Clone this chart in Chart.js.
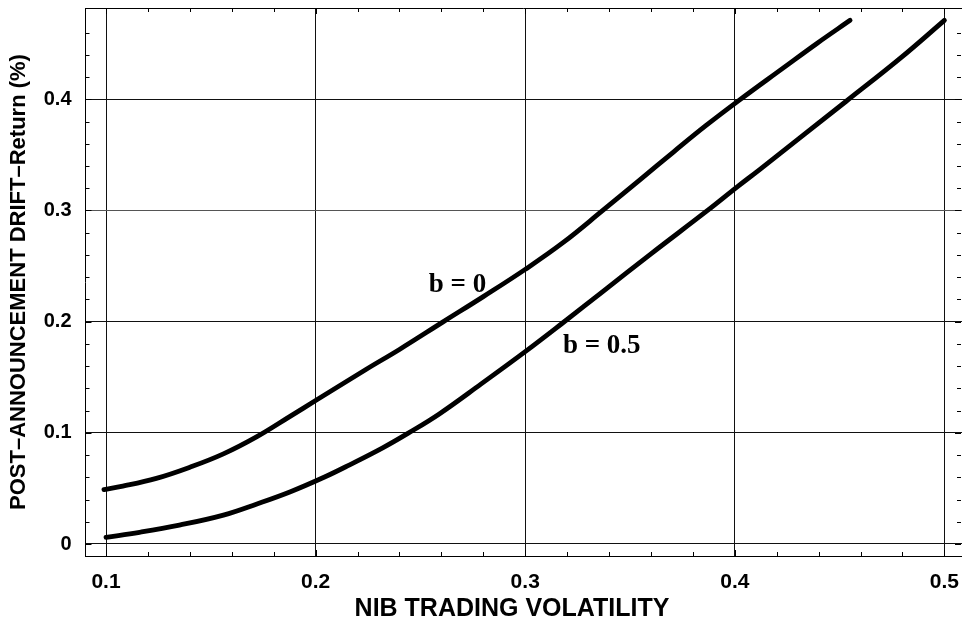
<!DOCTYPE html>
<html>
<head>
<meta charset="utf-8">
<script src="https://cdn.jsdelivr.net/npm/chart.js@4.4.0/dist/chart.umd.min.js"></script>
<style>
  html, body { margin: 0; padding: 0; background: #fff; }
  #wrap { width: 962px; height: 621px; }
</style>
</head>
<body>
<div id="wrap"><canvas id="c" width="962" height="621"></canvas></div>
<script>
// ---- data ----
const b0X = [0.099, 0.108, 0.124, 0.140, 0.156, 0.172, 0.188, 0.200, 0.224, 0.240, 0.261, 0.280, 0.300, 0.318, 0.337, 0.355, 0.371, 0.386, 0.402, 0.423, 0.439, 0.455];
const b0Y = [0.049, 0.052, 0.059, 0.069, 0.081, 0.0965, 0.115, 0.129, 0.157, 0.175, 0.200, 0.2225, 0.247, 0.271, 0.300, 0.328, 0.353, 0.376, 0.399, 0.428, 0.450, 0.471];
const b05X = [0.100, 0.116, 0.135, 0.156, 0.172, 0.188, 0.204, 0.216, 0.232, 0.244, 0.259, 0.279, 0.300, 0.318, 0.337, 0.360, 0.387, 0.401, 0.412, 0.453, 0.479, 0.500];
const b05Y = [0.006, 0.0105, 0.017, 0.026, 0.036, 0.047, 0.060, 0.071, 0.0865, 0.0995, 0.117, 0.144, 0.173, 0.199, 0.227, 0.261, 0.300, 0.321, 0.337, 0.398, 0.437, 0.471];

const seriesLabels = ['b = 0', 'b = 0.5'];
const labelAnchorX = [0.254, 0.318];
const labelAnchorY = [0.2265, 0.1715];

const xTicks = [0.1, 0.2, 0.3, 0.4, 0.5];
const yTicks = [0, 0.1, 0.2, 0.3, 0.4];
const xMinorTicks = [0.1, 0.12, 0.14, 0.16, 0.18, 0.2, 0.22, 0.24, 0.26, 0.28, 0.3, 0.32, 0.34, 0.36, 0.38, 0.4, 0.42, 0.44, 0.46, 0.48, 0.5];
const yMinorTicks = [0, 0.02, 0.04, 0.06, 0.08, 0.1, 0.12, 0.14, 0.16, 0.18, 0.2, 0.22, 0.24, 0.26, 0.28, 0.3, 0.32, 0.34, 0.36, 0.38, 0.4, 0.42, 0.44, 0.46];

const xTitle = 'NIB TRADING VOLATILITY';
const yTitle = 'POST\u2013ANNOUNCEMENT DRIFT\u2013Return (%)';

const fmt = v => (Math.abs(v) < 1e-9 ? '0' : Number(v).toFixed(1));
const pts = (xs, ys) => xs.map((x, i) => ({ x: x, y: ys[i] }));
const SANS = '"Liberation Sans", Arial, sans-serif';

const decorations = {
  id: 'decorations',
  afterDatasetsDraw(chart) {
    const { ctx, chartArea: a, scales: { x, y } } = chart;
    ctx.save();
    ctx.strokeStyle = '#000';
    ctx.lineWidth = 1;
    ctx.beginPath();
    xMinorTicks.forEach(v => {
      const px = Math.round(x.getPixelForValue(v)) + 0.5;
      const len = xTicks.some(t => Math.abs(t - v) < 1e-9) ? 6 : 4;
      ctx.moveTo(px, a.bottom); ctx.lineTo(px, a.bottom - len);
      ctx.moveTo(px, a.top); ctx.lineTo(px, a.top + len);
    });
    yMinorTicks.forEach(v => {
      const py = Math.round(y.getPixelForValue(v)) + 0.5;
      const len = yTicks.some(t => Math.abs(t - v) < 1e-9) ? 6 : 4;
      ctx.moveTo(a.left, py); ctx.lineTo(a.left + len, py);
      ctx.moveTo(a.right - 1, py); ctx.lineTo(a.right - 1 - len, py);
    });
    ctx.stroke();
    ctx.beginPath();
    ctx.moveTo(a.left, Math.round(a.top) + 0.5); ctx.lineTo(a.right, Math.round(a.top) + 0.5);
    ctx.stroke();

    ctx.fillStyle = '#000';
    ctx.font = 'bold 27px "Liberation Serif", "Times New Roman", serif';
    ctx.textAlign = 'left';
    ctx.textBaseline = 'alphabetic';
    seriesLabels.forEach((t, i) => {
      ctx.fillText(t, x.getPixelForValue(labelAnchorX[i]), y.getPixelForValue(labelAnchorY[i]));
    });

    // x axis title
    ctx.font = 'bold 25px ' + SANS;
    ctx.textAlign = 'center';
    ctx.textBaseline = 'alphabetic';
    ctx.fillText(xTitle, 512, 616);
    ctx.restore();
  }
};

const lineStyle = {
  showLine: true,
  borderColor: '#000',
  backgroundColor: '#000',
  borderWidth: 4.8,
  pointRadius: 0,
  fill: false,
  tension: 0.4,
  borderCapStyle: 'round',
  borderJoinStyle: 'round'
};

new Chart(document.getElementById('c'), {
  type: 'scatter',
  data: {
    datasets: [
      Object.assign({ label: seriesLabels[0], data: pts(b0X, b0Y) }, lineStyle),
      Object.assign({ label: seriesLabels[1], data: pts(b05X, b05Y) }, lineStyle)
    ]
  },
  options: {
    responsive: false,
    animation: false,
    devicePixelRatio: 1,
    layout: { padding: { top: 8, right: 0, left: 0, bottom: 0 } },
    plugins: { legend: { display: false }, tooltip: { enabled: false } },
    scales: {
      x: {
        type: 'linear',
        min: 0.0902,
        max: 0.5084,
        afterBuildTicks: s => { s.ticks = xTicks.map(v => ({ value: v })); },
        afterFit: s => { s.height = 65; s.paddingLeft = 0; s.paddingRight = 0; },
        grid: { color: '#111', lineWidth: 1, drawTicks: false },
        border: { color: '#000', width: 1 },
        ticks: {
          autoSkip: false, maxRotation: 0, padding: 14, color: '#000',
          font: { family: SANS, weight: 'bold', size: 21 },
          callback: v => fmt(v)
        },
        title: { display: false }
      },
      y: {
        type: 'linear',
        min: -0.0108,
        max: 0.4821,
        afterBuildTicks: s => { s.ticks = yTicks.map(v => ({ value: v })); },
        afterFit: s => { s.width = 85.5; s.paddingTop = 0; s.paddingBottom = 0; },
        grid: { color: ctx => (ctx.tick && Math.abs(ctx.tick.value - 0.3) < 1e-9 ? '#555' : '#111'), lineWidth: 1, drawTicks: false },
        border: { color: '#000', width: 1 },
        ticks: {
          autoSkip: false, padding: 14, color: '#000',
          font: { family: SANS, weight: 'bold', size: 20 },
          callback: v => fmt(v)
        },
        title: {
          display: true, text: yTitle, color: '#000',
          font: { family: SANS, weight: 'bold', size: 22 },
          padding: { top: 6, bottom: 0 }
        }
      }
    }
  },
  plugins: [decorations]
});
</script>
</body>
</html>
